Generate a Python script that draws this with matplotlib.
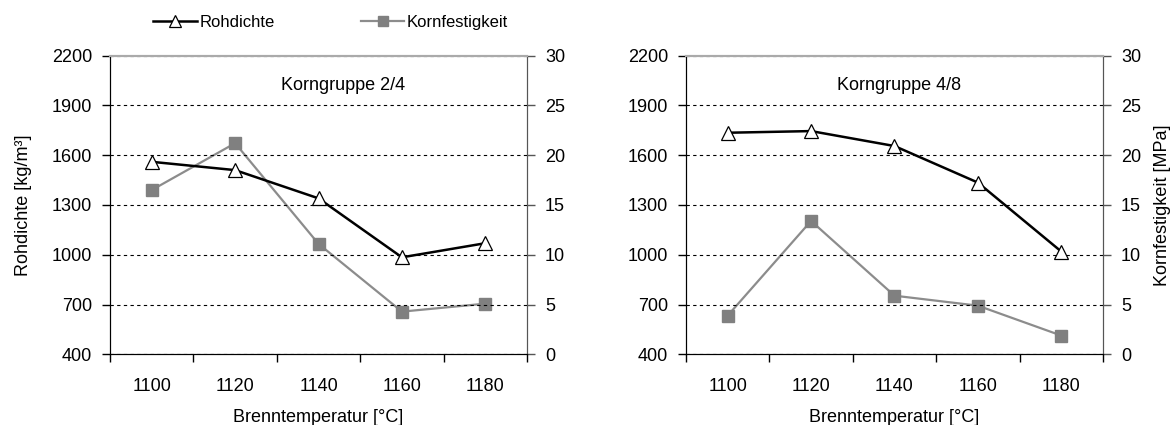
import numpy as np
import matplotlib.pyplot as plt
from matplotlib.ticker import FixedLocator, NullFormatter

plt.rcParams['font.family'] = ['Liberation Sans', 'DejaVu Sans']

temps = ['1100', '1120', '1140', '1160', '1180']
dichte_24 = [1560, 1510, 1340, 985, 1070]
festigkeit_24 = [16.5, 21.2, 11.1, 4.3, 5.1]
dichte_48 = [1735, 1745, 1655, 1435, 1020]
festigkeit_48 = [3.9, 13.4, 5.9, 4.9, 1.9]
titles = ['Korngruppe 2/4', 'Korngruppe 4/8']

GRAY = '#808080'
FS = 13


def panel(ax, dichte, festigkeit, title, title_x, left_label, right_label):
    x = np.arange(len(temps))
    ax2 = ax.twinx()
    ax.set_zorder(ax2.get_zorder() + 1)
    ax.patch.set_visible(False)

    ax2.plot(x, festigkeit, color='#8c8c8c', lw=1.6, marker='s', ms=9,
             mfc=GRAY, mec=GRAY, label='Kornfestigkeit')
    ax.plot(x, dichte, color='black', lw=1.8, marker='^', ms=10,
            mfc='white', mec='black', mew=0.9, label='Rohdichte')

    ax.set_xlim(-0.5, len(temps) - 0.5)
    ax.set_ylim(400, 2200)
    ax.set_yticks(np.arange(400, 2201, 300))
    ax2.set_ylim(0, 30)
    ax2.set_yticks(np.arange(0, 31, 5))

    ax.xaxis.set_major_locator(FixedLocator(np.arange(-0.5, len(temps), 1)))
    ax.xaxis.set_major_formatter(NullFormatter())
    ax.xaxis.set_minor_locator(FixedLocator(x))
    ax.set_xticklabels(temps, minor=True)
    ax.tick_params(axis='x', which='minor', length=0, pad=17, labelsize=FS)
    ax.tick_params(axis='x', which='major', length=6, width=1, direction='out')
    ax.tick_params(axis='y', length=6, width=1, pad=7, labelsize=FS)
    ax2.tick_params(axis='y', length=6, width=1, pad=7, labelsize=FS,
                    color='#555555')

    ax.yaxis.grid(True, linestyle=(0, (3, 3)), color='black', lw=0.8)
    for a in (ax, ax2):
        a.spines['top'].set_color('#aaaaaa')
        a.spines['top'].set_linewidth(1.5)
        a.spines['right'].set_color('#555555')
        a.spines['left'].set_color('black')
        a.spines['bottom'].set_color('black')

    ax.text(title_x, 0.9, title, transform=ax.transAxes, ha='center',
            va='center', fontsize=FS)
    ax.set_xlabel('Brenntemperatur [°C]', fontsize=FS, labelpad=10)
    if left_label:
        ax.set_ylabel('Rohdichte [kg/m³]', fontsize=FS, labelpad=14)
    if right_label:
        ax2.set_ylabel('Kornfestigkeit [MPa]', fontsize=FS, labelpad=9)
    return ax, ax2


fig = plt.figure(figsize=(11.73, 4.25), dpi=100)
axL = fig.add_axes([0.0938, 0.1659, 0.3555, 0.7035])
axR = fig.add_axes([0.5848, 0.1659, 0.3555, 0.7035])

a1, b1 = panel(axL, dichte_24, festigkeit_24, titles[0], 0.56, True, False)
a2, b2 = panel(axR, dichte_48, festigkeit_48, titles[1], 0.51, False, True)

h1, lab1 = a1.get_legend_handles_labels()
h2, lab2 = b1.get_legend_handles_labels()
fig.legend(h1 + h2, lab1 + lab2, loc='center', bbox_to_anchor=(0.282, 0.948),
           ncol=2, frameon=False, fontsize=12, handlelength=2.6,
           handletextpad=0.15, columnspacing=5.2, markerscale=0.85)

fig.savefig('out.png', dpi=100)
